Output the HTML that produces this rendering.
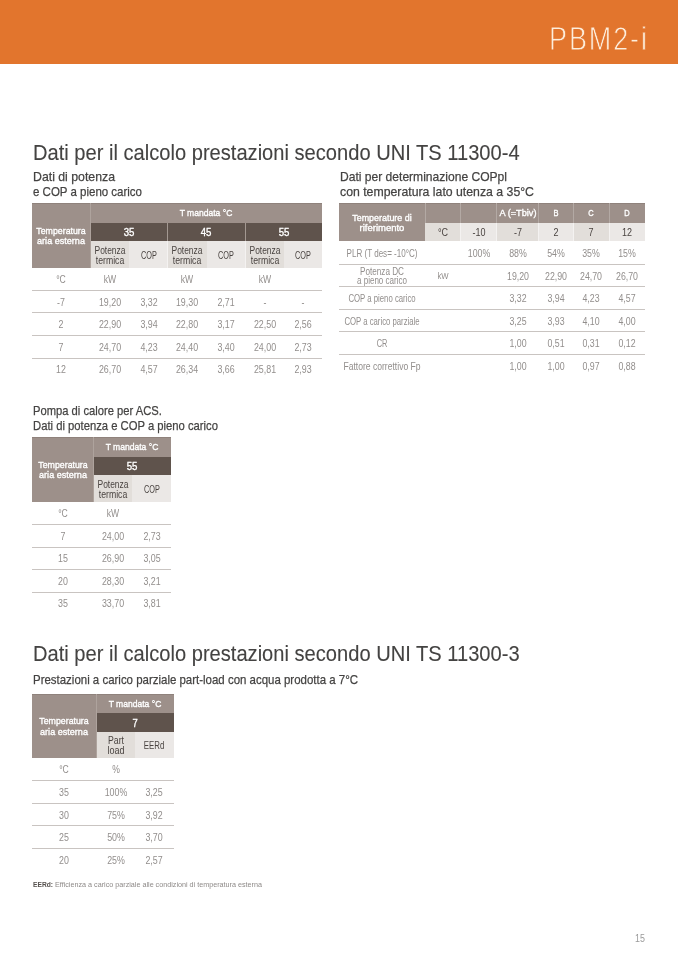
<!DOCTYPE html>
<html lang="it"><head><meta charset="utf-8"><title>PBM2-i</title>
<style>
html,body{margin:0;padding:0;background:#fff}
body{width:678px;height:959px;position:relative;overflow:hidden;font-family:"Liberation Sans", sans-serif}
.r{position:absolute}
.t{position:absolute;white-space:nowrap;line-height:1;display:inline-block}
.tl{transform-origin:0 0}
.tc{transform-origin:50% 0}
</style></head><body>
<div class="r" style="left:0.0px;top:0.0px;width:678.0px;height:64.0px;background:#e2752d"></div>
<div class="r" style="left:32.0px;top:203.0px;width:58.0px;height:65.0px;background:#9d908a"></div>
<div class="r" style="left:90.0px;top:203.0px;width:232.0px;height:20.0px;background:#9d908a"></div>
<div class="r" style="left:32.0px;top:203.0px;width:290.0px;height:1.0px;background:#8f827c"></div>
<div class="r" style="left:90.0px;top:203.0px;width:1.0px;height:65.0px;background:#aea39d"></div>
<div class="r" style="left:91.0px;top:223.0px;width:231.0px;height:18.0px;background:#5f534c"></div>
<div class="r" style="left:91.0px;top:241.0px;width:38.0px;height:27.0px;background:#e2deda"></div>
<div class="r" style="left:129.0px;top:241.0px;width:39.0px;height:27.0px;background:#ebe8e6"></div>
<div class="r" style="left:167.0px;top:223.0px;width:1.0px;height:18.0px;background:#a39891"></div>
<div class="r" style="left:168.0px;top:241.0px;width:39.0px;height:27.0px;background:#e2deda"></div>
<div class="r" style="left:207.0px;top:241.0px;width:38.0px;height:27.0px;background:#ebe8e6"></div>
<div class="r" style="left:167.0px;top:241.0px;width:1.0px;height:27.0px;background:#f4f2f1"></div>
<div class="r" style="left:245.0px;top:223.0px;width:1.0px;height:18.0px;background:#a39891"></div>
<div class="r" style="left:245.0px;top:241.0px;width:39.0px;height:27.0px;background:#e2deda"></div>
<div class="r" style="left:284.0px;top:241.0px;width:38.0px;height:27.0px;background:#ebe8e6"></div>
<div class="r" style="left:245.0px;top:241.0px;width:1.0px;height:27.0px;background:#f4f2f1"></div>
<div class="r" style="left:32.0px;top:290.0px;width:290.0px;height:1.0px;background:#c9c4c1"></div>
<div class="r" style="left:32.0px;top:312.0px;width:290.0px;height:1.0px;background:#c9c4c1"></div>
<div class="r" style="left:32.0px;top:335.0px;width:290.0px;height:1.0px;background:#c9c4c1"></div>
<div class="r" style="left:32.0px;top:358.0px;width:290.0px;height:1.0px;background:#c9c4c1"></div>
<div class="r" style="left:32.0px;top:437.0px;width:61.0px;height:65.0px;background:#9d908a"></div>
<div class="r" style="left:93.0px;top:437.0px;width:78.0px;height:20.0px;background:#9d908a"></div>
<div class="r" style="left:32.0px;top:437.0px;width:139.0px;height:1.0px;background:#8f827c"></div>
<div class="r" style="left:93.0px;top:437.0px;width:1.0px;height:65.0px;background:#aea39d"></div>
<div class="r" style="left:94.0px;top:457.0px;width:77.0px;height:18.0px;background:#5f534c"></div>
<div class="r" style="left:94.0px;top:475.0px;width:38.0px;height:27.0px;background:#e2deda"></div>
<div class="r" style="left:132.0px;top:475.0px;width:39.0px;height:27.0px;background:#ebe8e6"></div>
<div class="r" style="left:32.0px;top:524.0px;width:139.0px;height:1.0px;background:#c9c4c1"></div>
<div class="r" style="left:32.0px;top:547.0px;width:139.0px;height:1.0px;background:#c9c4c1"></div>
<div class="r" style="left:32.0px;top:569.0px;width:139.0px;height:1.0px;background:#c9c4c1"></div>
<div class="r" style="left:32.0px;top:592.0px;width:139.0px;height:1.0px;background:#c9c4c1"></div>
<div class="r" style="left:32.0px;top:694.0px;width:65.0px;height:64.0px;background:#9d908a"></div>
<div class="r" style="left:97.0px;top:694.0px;width:77.0px;height:19.0px;background:#9d908a"></div>
<div class="r" style="left:32.0px;top:694.0px;width:142.0px;height:1.0px;background:#8f827c"></div>
<div class="r" style="left:96.0px;top:694.0px;width:1.0px;height:64.0px;background:#aea39d"></div>
<div class="r" style="left:97.0px;top:713.0px;width:77.0px;height:19.0px;background:#5f534c"></div>
<div class="r" style="left:97.0px;top:732.0px;width:38.0px;height:26.0px;background:#e2deda"></div>
<div class="r" style="left:135.0px;top:732.0px;width:39.0px;height:26.0px;background:#ebe8e6"></div>
<div class="r" style="left:32.0px;top:780.0px;width:142.0px;height:1.0px;background:#c9c4c1"></div>
<div class="r" style="left:32.0px;top:803.0px;width:142.0px;height:1.0px;background:#c9c4c1"></div>
<div class="r" style="left:32.0px;top:825.0px;width:142.0px;height:1.0px;background:#c9c4c1"></div>
<div class="r" style="left:32.0px;top:848.0px;width:142.0px;height:1.0px;background:#c9c4c1"></div>
<div class="r" style="left:339.0px;top:203.0px;width:86.0px;height:38.0px;background:#9d908a"></div>
<div class="r" style="left:425.0px;top:203.0px;width:220.0px;height:20.0px;background:#9d908a"></div>
<div class="r" style="left:339.0px;top:203.0px;width:306.0px;height:1.0px;background:#8f827c"></div>
<div class="r" style="left:425.0px;top:203.0px;width:1.0px;height:20.0px;background:#b3a9a4"></div>
<div class="r" style="left:460.0px;top:203.0px;width:1.0px;height:20.0px;background:#b3a9a4"></div>
<div class="r" style="left:496.0px;top:203.0px;width:1.0px;height:20.0px;background:#b3a9a4"></div>
<div class="r" style="left:538.0px;top:203.0px;width:1.0px;height:20.0px;background:#b3a9a4"></div>
<div class="r" style="left:573.0px;top:203.0px;width:1.0px;height:20.0px;background:#b3a9a4"></div>
<div class="r" style="left:609.0px;top:203.0px;width:1.0px;height:20.0px;background:#b3a9a4"></div>
<div class="r" style="left:425.0px;top:223.0px;width:36.0px;height:18.0px;background:#e2deda"></div>
<div class="r" style="left:461.0px;top:223.0px;width:36.0px;height:18.0px;background:#ebe8e6"></div>
<div class="r" style="left:460.0px;top:223.0px;width:1.0px;height:18.0px;background:#f4f2f1"></div>
<div class="r" style="left:497.0px;top:223.0px;width:41.0px;height:18.0px;background:#e2deda"></div>
<div class="r" style="left:496.0px;top:223.0px;width:1.0px;height:18.0px;background:#f4f2f1"></div>
<div class="r" style="left:538.0px;top:223.0px;width:36.0px;height:18.0px;background:#ebe8e6"></div>
<div class="r" style="left:538.0px;top:223.0px;width:1.0px;height:18.0px;background:#f4f2f1"></div>
<div class="r" style="left:574.0px;top:223.0px;width:35.0px;height:18.0px;background:#e2deda"></div>
<div class="r" style="left:573.0px;top:223.0px;width:1.0px;height:18.0px;background:#f4f2f1"></div>
<div class="r" style="left:609.0px;top:223.0px;width:36.0px;height:18.0px;background:#ebe8e6"></div>
<div class="r" style="left:609.0px;top:223.0px;width:1.0px;height:18.0px;background:#f4f2f1"></div>
<div class="r" style="left:339.0px;top:264.0px;width:306.0px;height:1.0px;background:#c9c4c1"></div>
<div class="r" style="left:339.0px;top:286.0px;width:306.0px;height:1.0px;background:#c9c4c1"></div>
<div class="r" style="left:339.0px;top:309.0px;width:306.0px;height:1.0px;background:#c9c4c1"></div>
<div class="r" style="left:339.0px;top:331.0px;width:306.0px;height:1.0px;background:#c9c4c1"></div>
<div class="r" style="left:339.0px;top:354.0px;width:306.0px;height:1.0px;background:#c9c4c1"></div>
<span class="t tl" style="left:549.20px;top:23.00px;font-size:32.50px;color:#fdeedd;letter-spacing:2.3px;-webkit-text-stroke:0.8px #e2752d;transform:scaleX(0.8300);">PBM2-i</span>
<span class="t tl" style="left:33.40px;top:142.00px;font-size:21.80px;color:#444342;-webkit-text-stroke:0.1px #444342;transform:scaleX(0.9226);">Dati per il calcolo prestazioni secondo UNI TS 11300-4</span>
<span class="t tl" style="left:33.30px;top:170.00px;font-size:13.40px;color:#444342;-webkit-text-stroke:0.25px #444342;transform:scaleX(0.9180);">Dati di potenza</span>
<span class="t tl" style="left:33.30px;top:185.00px;font-size:13.40px;color:#444342;-webkit-text-stroke:0.25px #444342;transform:scaleX(0.8580);">e COP a pieno carico</span>
<span class="t tl" style="left:339.50px;top:170.00px;font-size:13.40px;color:#444342;-webkit-text-stroke:0.25px #444342;transform:scaleX(0.9011);">Dati per determinazione COPpl</span>
<span class="t tl" style="left:339.50px;top:185.00px;font-size:13.40px;color:#444342;-webkit-text-stroke:0.25px #444342;transform:scaleX(0.9170);">con temperatura lato utenza a 35°C</span>
<span class="t tl" style="left:33.00px;top:404.00px;font-size:13.40px;color:#444342;-webkit-text-stroke:0.25px #444342;transform:scaleX(0.8359);">Pompa di calore per ACS.</span>
<span class="t tl" style="left:33.00px;top:419.00px;font-size:13.40px;color:#444342;-webkit-text-stroke:0.25px #444342;transform:scaleX(0.8406);">Dati di potenza e COP a pieno carico</span>
<span class="t tl" style="left:33.40px;top:643.00px;font-size:21.80px;color:#444342;-webkit-text-stroke:0.1px #444342;transform:scaleX(0.9226);">Dati per il calcolo prestazioni secondo UNI TS 11300-3</span>
<span class="t tl" style="left:33.00px;top:673.00px;font-size:13.40px;color:#444342;-webkit-text-stroke:0.25px #444342;transform:scaleX(0.8558);">Prestazioni a carico parziale part-load con acqua prodotta a 7°C</span>
<span class="t tc" style="left:61.15px;top:226.00px;font-size:9.70px;color:#ffffff;-webkit-text-stroke:0.35px #fff;transform:translateX(-50%) scaleX(0.9082);">Temperatura</span>
<span class="t tc" style="left:61.15px;top:236.00px;font-size:9.70px;color:#ffffff;-webkit-text-stroke:0.35px #fff;transform:translateX(-50%) scaleX(0.9361);">aria esterna</span>
<span class="t tc" style="left:206.15px;top:208.00px;font-size:9.70px;color:#ffffff;-webkit-text-stroke:0.35px #fff;transform:translateX(-50%) scaleX(0.8827);">T mandata °C</span>
<span class="t tc" style="left:129.05px;top:228.00px;font-size:10.40px;color:#ffffff;-webkit-text-stroke:0.35px #fff;transform:translateX(-50%) scaleX(0.9254);">35</span>
<span class="t tc" style="left:109.75px;top:246.00px;font-size:10.00px;color:#4a4441;transform:translateX(-50%) scaleX(0.8446);">Potenza</span>
<span class="t tc" style="left:109.75px;top:256.00px;font-size:10.00px;color:#4a4441;transform:translateX(-50%) scaleX(0.8690);">termica</span>
<span class="t tc" style="left:148.50px;top:251.00px;font-size:10.00px;color:#4a4441;transform:translateX(-50%) scaleX(0.7291);">COP</span>
<span class="t tc" style="left:206.40px;top:228.00px;font-size:10.40px;color:#ffffff;-webkit-text-stroke:0.35px #fff;transform:translateX(-50%) scaleX(0.9254);">45</span>
<span class="t tc" style="left:187.40px;top:246.00px;font-size:10.00px;color:#4a4441;transform:translateX(-50%) scaleX(0.8446);">Potenza</span>
<span class="t tc" style="left:187.40px;top:256.00px;font-size:10.00px;color:#4a4441;transform:translateX(-50%) scaleX(0.8690);">termica</span>
<span class="t tc" style="left:226.00px;top:251.00px;font-size:10.00px;color:#4a4441;transform:translateX(-50%) scaleX(0.7291);">COP</span>
<span class="t tc" style="left:283.50px;top:228.00px;font-size:10.40px;color:#ffffff;-webkit-text-stroke:0.35px #fff;transform:translateX(-50%) scaleX(0.9254);">55</span>
<span class="t tc" style="left:264.50px;top:246.00px;font-size:10.00px;color:#4a4441;transform:translateX(-50%) scaleX(0.8446);">Potenza</span>
<span class="t tc" style="left:264.50px;top:256.00px;font-size:10.00px;color:#4a4441;transform:translateX(-50%) scaleX(0.8690);">termica</span>
<span class="t tc" style="left:303.00px;top:251.00px;font-size:10.00px;color:#4a4441;transform:translateX(-50%) scaleX(0.7291);">COP</span>
<span class="t tc" style="left:61.15px;top:275.00px;font-size:10.00px;color:#928e8c;transform:translateX(-50%) scaleX(0.8600);">°C</span>
<span class="t tc" style="left:109.75px;top:275.00px;font-size:10.00px;color:#928e8c;transform:translateX(-50%) scaleX(0.8600);">kW</span>
<span class="t tc" style="left:187.40px;top:275.00px;font-size:10.00px;color:#928e8c;transform:translateX(-50%) scaleX(0.8600);">kW</span>
<span class="t tc" style="left:264.50px;top:275.00px;font-size:10.00px;color:#928e8c;transform:translateX(-50%) scaleX(0.8600);">kW</span>
<span class="t tc" style="left:61.15px;top:298.00px;font-size:10.30px;color:#928e8c;transform:translateX(-50%) scaleX(0.8600);">-7</span>
<span class="t tc" style="left:109.75px;top:298.00px;font-size:10.30px;color:#928e8c;transform:translateX(-50%) scaleX(0.8600);">19,20</span>
<span class="t tc" style="left:148.50px;top:298.00px;font-size:10.30px;color:#928e8c;transform:translateX(-50%) scaleX(0.8600);">3,32</span>
<span class="t tc" style="left:187.40px;top:298.00px;font-size:10.30px;color:#928e8c;transform:translateX(-50%) scaleX(0.8600);">19,30</span>
<span class="t tc" style="left:226.00px;top:298.00px;font-size:10.30px;color:#928e8c;transform:translateX(-50%) scaleX(0.8600);">2,71</span>
<span class="t tc" style="left:264.50px;top:298.00px;font-size:10.30px;color:#928e8c;transform:translateX(-50%) scaleX(0.8600);">-</span>
<span class="t tc" style="left:303.00px;top:298.00px;font-size:10.30px;color:#928e8c;transform:translateX(-50%) scaleX(0.8600);">-</span>
<span class="t tc" style="left:61.15px;top:320.00px;font-size:10.30px;color:#928e8c;transform:translateX(-50%) scaleX(0.8600);">2</span>
<span class="t tc" style="left:109.75px;top:320.00px;font-size:10.30px;color:#928e8c;transform:translateX(-50%) scaleX(0.8600);">22,90</span>
<span class="t tc" style="left:148.50px;top:320.00px;font-size:10.30px;color:#928e8c;transform:translateX(-50%) scaleX(0.8600);">3,94</span>
<span class="t tc" style="left:187.40px;top:320.00px;font-size:10.30px;color:#928e8c;transform:translateX(-50%) scaleX(0.8600);">22,80</span>
<span class="t tc" style="left:226.00px;top:320.00px;font-size:10.30px;color:#928e8c;transform:translateX(-50%) scaleX(0.8600);">3,17</span>
<span class="t tc" style="left:264.50px;top:320.00px;font-size:10.30px;color:#928e8c;transform:translateX(-50%) scaleX(0.8600);">22,50</span>
<span class="t tc" style="left:303.00px;top:320.00px;font-size:10.30px;color:#928e8c;transform:translateX(-50%) scaleX(0.8600);">2,56</span>
<span class="t tc" style="left:61.15px;top:343.00px;font-size:10.30px;color:#928e8c;transform:translateX(-50%) scaleX(0.8600);">7</span>
<span class="t tc" style="left:109.75px;top:343.00px;font-size:10.30px;color:#928e8c;transform:translateX(-50%) scaleX(0.8600);">24,70</span>
<span class="t tc" style="left:148.50px;top:343.00px;font-size:10.30px;color:#928e8c;transform:translateX(-50%) scaleX(0.8600);">4,23</span>
<span class="t tc" style="left:187.40px;top:343.00px;font-size:10.30px;color:#928e8c;transform:translateX(-50%) scaleX(0.8600);">24,40</span>
<span class="t tc" style="left:226.00px;top:343.00px;font-size:10.30px;color:#928e8c;transform:translateX(-50%) scaleX(0.8600);">3,40</span>
<span class="t tc" style="left:264.50px;top:343.00px;font-size:10.30px;color:#928e8c;transform:translateX(-50%) scaleX(0.8600);">24,00</span>
<span class="t tc" style="left:303.00px;top:343.00px;font-size:10.30px;color:#928e8c;transform:translateX(-50%) scaleX(0.8600);">2,73</span>
<span class="t tc" style="left:61.15px;top:365.00px;font-size:10.30px;color:#928e8c;transform:translateX(-50%) scaleX(0.8600);">12</span>
<span class="t tc" style="left:109.75px;top:365.00px;font-size:10.30px;color:#928e8c;transform:translateX(-50%) scaleX(0.8600);">26,70</span>
<span class="t tc" style="left:148.50px;top:365.00px;font-size:10.30px;color:#928e8c;transform:translateX(-50%) scaleX(0.8600);">4,57</span>
<span class="t tc" style="left:187.40px;top:365.00px;font-size:10.30px;color:#928e8c;transform:translateX(-50%) scaleX(0.8600);">26,34</span>
<span class="t tc" style="left:226.00px;top:365.00px;font-size:10.30px;color:#928e8c;transform:translateX(-50%) scaleX(0.8600);">3,66</span>
<span class="t tc" style="left:264.50px;top:365.00px;font-size:10.30px;color:#928e8c;transform:translateX(-50%) scaleX(0.8600);">25,81</span>
<span class="t tc" style="left:303.00px;top:365.00px;font-size:10.30px;color:#928e8c;transform:translateX(-50%) scaleX(0.8600);">2,93</span>
<span class="t tc" style="left:62.70px;top:460.00px;font-size:9.70px;color:#ffffff;-webkit-text-stroke:0.35px #fff;transform:translateX(-50%) scaleX(0.9082);">Temperatura</span>
<span class="t tc" style="left:62.70px;top:470.00px;font-size:9.70px;color:#ffffff;-webkit-text-stroke:0.35px #fff;transform:translateX(-50%) scaleX(0.9361);">aria esterna</span>
<span class="t tc" style="left:132.25px;top:442.00px;font-size:9.70px;color:#ffffff;-webkit-text-stroke:0.35px #fff;transform:translateX(-50%) scaleX(0.8827);">T mandata °C</span>
<span class="t tc" style="left:132.25px;top:462.00px;font-size:10.40px;color:#ffffff;-webkit-text-stroke:0.35px #fff;transform:translateX(-50%) scaleX(0.9254);">55</span>
<span class="t tc" style="left:112.85px;top:480.00px;font-size:10.00px;color:#4a4441;transform:translateX(-50%) scaleX(0.8446);">Potenza</span>
<span class="t tc" style="left:112.85px;top:490.00px;font-size:10.00px;color:#4a4441;transform:translateX(-50%) scaleX(0.8690);">termica</span>
<span class="t tc" style="left:151.70px;top:485.00px;font-size:10.00px;color:#4a4441;transform:translateX(-50%) scaleX(0.7291);">COP</span>
<span class="t tc" style="left:62.70px;top:509.00px;font-size:10.00px;color:#928e8c;transform:translateX(-50%) scaleX(0.8600);">°C</span>
<span class="t tc" style="left:112.85px;top:509.00px;font-size:10.00px;color:#928e8c;transform:translateX(-50%) scaleX(0.8600);">kW</span>
<span class="t tc" style="left:62.70px;top:532.00px;font-size:10.30px;color:#928e8c;transform:translateX(-50%) scaleX(0.8600);">7</span>
<span class="t tc" style="left:112.85px;top:532.00px;font-size:10.30px;color:#928e8c;transform:translateX(-50%) scaleX(0.8600);">24,00</span>
<span class="t tc" style="left:151.70px;top:532.00px;font-size:10.30px;color:#928e8c;transform:translateX(-50%) scaleX(0.8600);">2,73</span>
<span class="t tc" style="left:62.70px;top:554.00px;font-size:10.30px;color:#928e8c;transform:translateX(-50%) scaleX(0.8600);">15</span>
<span class="t tc" style="left:112.85px;top:554.00px;font-size:10.30px;color:#928e8c;transform:translateX(-50%) scaleX(0.8600);">26,90</span>
<span class="t tc" style="left:151.70px;top:554.00px;font-size:10.30px;color:#928e8c;transform:translateX(-50%) scaleX(0.8600);">3,05</span>
<span class="t tc" style="left:62.70px;top:577.00px;font-size:10.30px;color:#928e8c;transform:translateX(-50%) scaleX(0.8600);">20</span>
<span class="t tc" style="left:112.85px;top:577.00px;font-size:10.30px;color:#928e8c;transform:translateX(-50%) scaleX(0.8600);">28,30</span>
<span class="t tc" style="left:151.70px;top:577.00px;font-size:10.30px;color:#928e8c;transform:translateX(-50%) scaleX(0.8600);">3,21</span>
<span class="t tc" style="left:62.70px;top:599.00px;font-size:10.30px;color:#928e8c;transform:translateX(-50%) scaleX(0.8600);">35</span>
<span class="t tc" style="left:112.85px;top:599.00px;font-size:10.30px;color:#928e8c;transform:translateX(-50%) scaleX(0.8600);">33,70</span>
<span class="t tc" style="left:151.70px;top:599.00px;font-size:10.30px;color:#928e8c;transform:translateX(-50%) scaleX(0.8600);">3,81</span>
<span class="t tc" style="left:64.25px;top:716.00px;font-size:9.70px;color:#ffffff;-webkit-text-stroke:0.35px #fff;transform:translateX(-50%) scaleX(0.9082);">Temperatura</span>
<span class="t tc" style="left:64.25px;top:727.00px;font-size:9.70px;color:#ffffff;-webkit-text-stroke:0.35px #fff;transform:translateX(-50%) scaleX(0.9361);">aria esterna</span>
<span class="t tc" style="left:135.05px;top:699.00px;font-size:9.70px;color:#ffffff;-webkit-text-stroke:0.35px #fff;transform:translateX(-50%) scaleX(0.8827);">T mandata °C</span>
<span class="t tc" style="left:135.05px;top:719.00px;font-size:10.40px;color:#ffffff;-webkit-text-stroke:0.35px #fff;transform:translateX(-50%) scaleX(0.8995);">7</span>
<span class="t tc" style="left:115.90px;top:736.00px;font-size:10.00px;color:#4a4441;transform:translateX(-50%) scaleX(0.8722);">Part</span>
<span class="t tc" style="left:115.90px;top:746.00px;font-size:10.00px;color:#4a4441;transform:translateX(-50%) scaleX(0.8992);">load</span>
<span class="t tc" style="left:154.45px;top:741.00px;font-size:10.00px;color:#4a4441;transform:translateX(-50%) scaleX(0.7847);">EERd</span>
<span class="t tc" style="left:64.25px;top:765.00px;font-size:10.00px;color:#928e8c;transform:translateX(-50%) scaleX(0.8600);">°C</span>
<span class="t tc" style="left:115.90px;top:765.00px;font-size:10.00px;color:#928e8c;transform:translateX(-50%) scaleX(0.8600);">%</span>
<span class="t tc" style="left:64.25px;top:788.00px;font-size:10.30px;color:#928e8c;transform:translateX(-50%) scaleX(0.8600);">35</span>
<span class="t tc" style="left:115.90px;top:788.00px;font-size:10.30px;color:#928e8c;transform:translateX(-50%) scaleX(0.8600);">100%</span>
<span class="t tc" style="left:154.45px;top:788.00px;font-size:10.30px;color:#928e8c;transform:translateX(-50%) scaleX(0.8600);">3,25</span>
<span class="t tc" style="left:64.25px;top:811.00px;font-size:10.30px;color:#928e8c;transform:translateX(-50%) scaleX(0.8600);">30</span>
<span class="t tc" style="left:115.90px;top:811.00px;font-size:10.30px;color:#928e8c;transform:translateX(-50%) scaleX(0.8600);">75%</span>
<span class="t tc" style="left:154.45px;top:811.00px;font-size:10.30px;color:#928e8c;transform:translateX(-50%) scaleX(0.8600);">3,92</span>
<span class="t tc" style="left:64.25px;top:833.00px;font-size:10.30px;color:#928e8c;transform:translateX(-50%) scaleX(0.8600);">25</span>
<span class="t tc" style="left:115.90px;top:833.00px;font-size:10.30px;color:#928e8c;transform:translateX(-50%) scaleX(0.8600);">50%</span>
<span class="t tc" style="left:154.45px;top:833.00px;font-size:10.30px;color:#928e8c;transform:translateX(-50%) scaleX(0.8600);">3,70</span>
<span class="t tc" style="left:64.25px;top:856.00px;font-size:10.30px;color:#928e8c;transform:translateX(-50%) scaleX(0.8600);">20</span>
<span class="t tc" style="left:115.90px;top:856.00px;font-size:10.30px;color:#928e8c;transform:translateX(-50%) scaleX(0.8600);">25%</span>
<span class="t tc" style="left:154.45px;top:856.00px;font-size:10.30px;color:#928e8c;transform:translateX(-50%) scaleX(0.8600);">2,57</span>
<span class="t tc" style="left:382.20px;top:214.00px;font-size:9.20px;color:#ffffff;-webkit-text-stroke:0.35px #fff;transform:translateX(-50%) scaleX(0.9693);">Temperature di</span>
<span class="t tc" style="left:382.20px;top:224.00px;font-size:9.20px;color:#ffffff;-webkit-text-stroke:0.35px #fff;transform:translateX(-50%) scaleX(1.0321);">riferimento</span>
<span class="t tc" style="left:517.50px;top:208.00px;font-size:9.40px;color:#ffffff;-webkit-text-stroke:0.35px #fff;transform:translateX(-50%) scaleX(0.9820);">A (=Tbiv)</span>
<span class="t tc" style="left:555.95px;top:208.00px;font-size:9.40px;color:#ffffff;-webkit-text-stroke:0.35px #fff;transform:translateX(-50%) scaleX(0.8000);">B</span>
<span class="t tc" style="left:591.40px;top:208.00px;font-size:9.40px;color:#ffffff;-webkit-text-stroke:0.35px #fff;transform:translateX(-50%) scaleX(0.8000);">C</span>
<span class="t tc" style="left:627.15px;top:208.00px;font-size:9.40px;color:#ffffff;-webkit-text-stroke:0.35px #fff;transform:translateX(-50%) scaleX(0.8000);">D</span>
<span class="t tc" style="left:443.10px;top:228.00px;font-size:10.00px;color:#4a4441;transform:translateX(-50%) scaleX(0.9000);">°C</span>
<span class="t tc" style="left:478.70px;top:228.00px;font-size:10.00px;color:#4a4441;transform:translateX(-50%) scaleX(0.9000);">-10</span>
<span class="t tc" style="left:517.50px;top:228.00px;font-size:10.00px;color:#4a4441;transform:translateX(-50%) scaleX(0.9000);">-7</span>
<span class="t tc" style="left:555.95px;top:228.00px;font-size:10.00px;color:#4a4441;transform:translateX(-50%) scaleX(0.9000);">2</span>
<span class="t tc" style="left:591.40px;top:228.00px;font-size:10.00px;color:#4a4441;transform:translateX(-50%) scaleX(0.9000);">7</span>
<span class="t tc" style="left:627.15px;top:228.00px;font-size:10.00px;color:#4a4441;transform:translateX(-50%) scaleX(0.9000);">12</span>
<span class="t tc" style="left:382.20px;top:249.00px;font-size:10.20px;color:#928e8c;transform:translateX(-50%) scaleX(0.7907);">PLR (T des= -10°C)</span>
<span class="t tc" style="left:478.70px;top:249.00px;font-size:10.00px;color:#928e8c;transform:translateX(-50%) scaleX(0.8800);">100%</span>
<span class="t tc" style="left:517.50px;top:249.00px;font-size:10.00px;color:#928e8c;transform:translateX(-50%) scaleX(0.8800);">88%</span>
<span class="t tc" style="left:555.95px;top:249.00px;font-size:10.00px;color:#928e8c;transform:translateX(-50%) scaleX(0.8800);">54%</span>
<span class="t tc" style="left:591.40px;top:249.00px;font-size:10.00px;color:#928e8c;transform:translateX(-50%) scaleX(0.8800);">35%</span>
<span class="t tc" style="left:627.15px;top:249.00px;font-size:10.00px;color:#928e8c;transform:translateX(-50%) scaleX(0.8800);">15%</span>
<span class="t tc" style="left:382.20px;top:267.00px;font-size:10.20px;color:#928e8c;transform:translateX(-50%) scaleX(0.8009);">Potenza DC</span>
<span class="t tc" style="left:382.20px;top:276.00px;font-size:10.20px;color:#928e8c;transform:translateX(-50%) scaleX(0.7898);">a pieno carico</span>
<span class="t tc" style="left:443.10px;top:272.00px;font-size:9.00px;color:#928e8c;transform:translateX(-50%) scaleX(0.8600);">kW</span>
<span class="t tc" style="left:517.50px;top:272.00px;font-size:10.00px;color:#928e8c;transform:translateX(-50%) scaleX(0.8800);">19,20</span>
<span class="t tc" style="left:555.95px;top:272.00px;font-size:10.00px;color:#928e8c;transform:translateX(-50%) scaleX(0.8800);">22,90</span>
<span class="t tc" style="left:591.40px;top:272.00px;font-size:10.00px;color:#928e8c;transform:translateX(-50%) scaleX(0.8800);">24,70</span>
<span class="t tc" style="left:627.15px;top:272.00px;font-size:10.00px;color:#928e8c;transform:translateX(-50%) scaleX(0.8800);">26,70</span>
<span class="t tc" style="left:382.20px;top:294.00px;font-size:10.20px;color:#928e8c;transform:translateX(-50%) scaleX(0.7623);">COP a pieno carico</span>
<span class="t tc" style="left:517.50px;top:294.00px;font-size:10.00px;color:#928e8c;transform:translateX(-50%) scaleX(0.8800);">3,32</span>
<span class="t tc" style="left:555.95px;top:294.00px;font-size:10.00px;color:#928e8c;transform:translateX(-50%) scaleX(0.8800);">3,94</span>
<span class="t tc" style="left:591.40px;top:294.00px;font-size:10.00px;color:#928e8c;transform:translateX(-50%) scaleX(0.8800);">4,23</span>
<span class="t tc" style="left:627.15px;top:294.00px;font-size:10.00px;color:#928e8c;transform:translateX(-50%) scaleX(0.8800);">4,57</span>
<span class="t tc" style="left:382.20px;top:317.00px;font-size:10.20px;color:#928e8c;transform:translateX(-50%) scaleX(0.7603);">COP a carico parziale</span>
<span class="t tc" style="left:517.50px;top:317.00px;font-size:10.00px;color:#928e8c;transform:translateX(-50%) scaleX(0.8800);">3,25</span>
<span class="t tc" style="left:555.95px;top:317.00px;font-size:10.00px;color:#928e8c;transform:translateX(-50%) scaleX(0.8800);">3,93</span>
<span class="t tc" style="left:591.40px;top:317.00px;font-size:10.00px;color:#928e8c;transform:translateX(-50%) scaleX(0.8800);">4,10</span>
<span class="t tc" style="left:627.15px;top:317.00px;font-size:10.00px;color:#928e8c;transform:translateX(-50%) scaleX(0.8800);">4,00</span>
<span class="t tc" style="left:382.20px;top:339.00px;font-size:10.20px;color:#928e8c;transform:translateX(-50%) scaleX(0.7270);">CR</span>
<span class="t tc" style="left:517.50px;top:339.00px;font-size:10.00px;color:#928e8c;transform:translateX(-50%) scaleX(0.8800);">1,00</span>
<span class="t tc" style="left:555.95px;top:339.00px;font-size:10.00px;color:#928e8c;transform:translateX(-50%) scaleX(0.8800);">0,51</span>
<span class="t tc" style="left:591.40px;top:339.00px;font-size:10.00px;color:#928e8c;transform:translateX(-50%) scaleX(0.8800);">0,31</span>
<span class="t tc" style="left:627.15px;top:339.00px;font-size:10.00px;color:#928e8c;transform:translateX(-50%) scaleX(0.8800);">0,12</span>
<span class="t tc" style="left:382.20px;top:362.00px;font-size:10.20px;color:#928e8c;transform:translateX(-50%) scaleX(0.8417);">Fattore correttivo Fp</span>
<span class="t tc" style="left:517.50px;top:362.00px;font-size:10.00px;color:#928e8c;transform:translateX(-50%) scaleX(0.8800);">1,00</span>
<span class="t tc" style="left:555.95px;top:362.00px;font-size:10.00px;color:#928e8c;transform:translateX(-50%) scaleX(0.8800);">1,00</span>
<span class="t tc" style="left:591.40px;top:362.00px;font-size:10.00px;color:#928e8c;transform:translateX(-50%) scaleX(0.8800);">0,97</span>
<span class="t tc" style="left:627.15px;top:362.00px;font-size:10.00px;color:#928e8c;transform:translateX(-50%) scaleX(0.8800);">0,88</span>
<span class="t tl" style="left:32.50px;top:881.00px;font-size:7.20px;color:#55504d;font-weight:700;transform:scaleX(0.9275);">EERd:</span>
<span class="t tl" style="left:54.50px;top:881.00px;font-size:7.20px;color:#8e8a88;transform:scaleX(1.0008);">Efficienza a carico parziale alle condizioni di temperatura esterna</span>
<span class="t tl" style="left:634.80px;top:934.00px;font-size:10.30px;color:#9a9a9a;transform:scaleX(0.8632);">15</span>
</body></html>
